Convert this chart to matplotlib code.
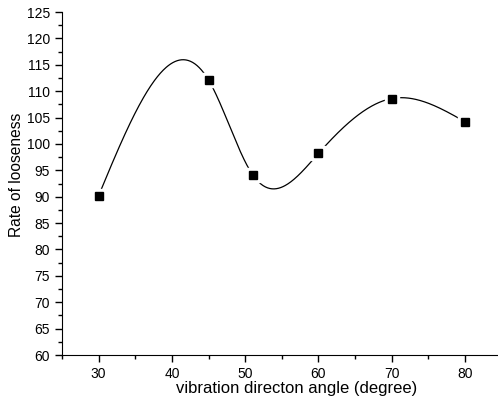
import numpy as np
import matplotlib.pyplot as plt
from matplotlib.ticker import MultipleLocator

plt.rcParams['font.family'] = ['Liberation Sans', 'DejaVu Sans']

angle = [30, 45, 51, 60, 70, 80]
looseness = [90.2, 112.1, 94.2, 98.2, 108.6, 104.2]


# natural cubic spline, like Origin's spline connect
def natural_spline(x, y, xs):
    x = np.asarray(x, float)
    y = np.asarray(y, float)
    n = len(x)
    h = np.diff(x)
    A = np.zeros((n, n))
    b = np.zeros(n)
    A[0, 0] = 1
    A[-1, -1] = 1
    for i in range(1, n - 1):
        A[i, i - 1] = h[i - 1]
        A[i, i] = 2 * (h[i - 1] + h[i])
        A[i, i + 1] = h[i]
        b[i] = 6 * ((y[i + 1] - y[i]) / h[i] - (y[i] - y[i - 1]) / h[i - 1])
    M = np.linalg.solve(A, b)
    idx = np.clip(np.searchsorted(x, xs) - 1, 0, n - 2)
    x0, x1 = x[idx], x[idx + 1]
    hh = x1 - x0
    t0 = x1 - xs
    t1 = xs - x0
    return (M[idx] * t0**3 / (6 * hh) + M[idx + 1] * t1**3 / (6 * hh)
            + (y[idx] / hh - M[idx] * hh / 6) * t0
            + (y[idx + 1] / hh - M[idx + 1] * hh / 6) * t1)


xs = np.linspace(angle[0], angle[-1], 500)
ys = natural_spline(angle, looseness, xs)

fig = plt.figure(figsize=(4.98, 4.03), dpi=100)
ax = fig.add_axes([62 / 498, 48 / 403, 436 / 498, 343 / 403])

ax.plot(xs, ys, color='black', lw=0.9, zorder=1)
ax.plot(angle, looseness, 's', color='white', ms=9.5, zorder=2)
ax.plot(angle, looseness, 's', color='black', ms=5.5, zorder=3)

ax.set_xlim(25, 84.5)
ax.set_ylim(60, 125)
ax.xaxis.set_major_locator(MultipleLocator(10))
ax.xaxis.set_minor_locator(MultipleLocator(5))
ax.yaxis.set_major_locator(MultipleLocator(5))
ax.yaxis.set_minor_locator(MultipleLocator(2.5))
ax.tick_params(which='major', length=5, width=1, labelsize=10)
ax.tick_params(which='minor', length=3, width=1)

ax.spines['top'].set_visible(False)
ax.spines['right'].set_visible(False)

ax.set_xlabel('vibration directon angle (degree)', fontsize=12)
ax.set_ylabel('Rate of looseness', fontsize=11.2)
ax.xaxis.set_label_coords(0.537, -0.075)
ax.yaxis.set_label_coords(-0.088, 0.525)

fig.savefig('out.png', dpi=100)
